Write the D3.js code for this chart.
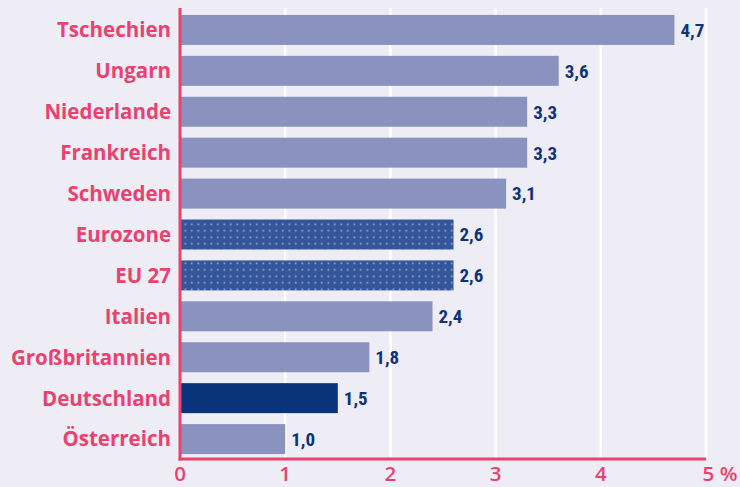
<!DOCTYPE html>
<html><head><meta charset="utf-8">
<script src="https://cdn.jsdelivr.net/npm/d3@7"></script>
<style>body{margin:0;background:#eeecf5;}svg{display:block;}</style>
</head><body>
<script>
const categories = ["Tschechien","Ungarn","Niederlande","Frankreich","Schweden","Eurozone","EU 27","Italien","Großbritannien","Deutschland","Österreich"];
const values = [4.7,3.6,3.3,3.3,3.1,2.6,2.6,2.4,1.8,1.5,1.0];
const barTypes = ["normal","normal","normal","normal","normal","dotted","dotted","normal","normal","highlight","normal"];
const tickValues = [0,1,2,3,4,5];
const tickLabels = ["0","1","2","3","4","5 %"];

const W = 740, H = 487;
const svg = d3.select("body").append("svg").attr("width", W).attr("height", H);
svg.append("rect").attr("width", W).attr("height", H).attr("fill", "#eeecf5");

const defs = svg.append("defs");
const pat = defs.append("pattern").attr("id","dots").attr("patternUnits","userSpaceOnUse")
  .attr("width",6.5).attr("height",6.5);
pat.append("rect").attr("width",6.5).attr("height",6.5).attr("fill","#34559a");
pat.append("rect").attr("x",2.5).attr("y",2.5).attr("width",1.6).attr("height",1.6).attr("fill","#a3b0d6");

const x = d3.scaleLinear().domain([0,5]).range([180,706]);
const y = d3.scaleBand().domain(categories).range([9.5, 459.5]).paddingInner(0.267).paddingOuter(0.133);

// grid
svg.append("g").selectAll("line").data(tickValues.filter(d=>d>0)).join("line")
  .attr("x1", d=>x(d)).attr("x2", d=>x(d)).attr("y1", 8).attr("y2", 459)
  .attr("stroke", "#ffffff").attr("stroke-width", 2.5);

const fills = {normal:"#8a92bf", dotted:"url(#dots)", highlight:"#0a347a"};
svg.append("g").selectAll("rect").data(categories).join("rect")
  .attr("x", x(0)).attr("y", d=>y(d))
  .attr("width", (d,i)=>x(values[i])-x(0)).attr("height", y.bandwidth())
  .attr("fill", (d,i)=>fills[barTypes[i]]);

// value labels
svg.append("g").selectAll("text").data(categories).join("text")
  .attr("x", (d,i)=>x(values[i])+6).attr("y", d=>y(d)+y.bandwidth()/2)
  .attr("dy","0.36em")
  .attr("font-family","'Liberation Sans Narrow','Roboto Condensed','Open Sans',sans-serif")
  .attr("font-weight","bold").attr("font-size",19).attr("fill","#0d3378")
  .text((d,i)=>d3.format(".1f")(values[i]).replace(".",","));

// category labels
svg.append("g").selectAll("text").data(categories).join("text")
  .attr("x", 171).attr("y", d=>y(d)+y.bandwidth()/2).attr("dy","0.36em")
  .attr("text-anchor","end")
  .attr("font-family","'Open Sans',sans-serif").attr("font-weight","bold")
  .attr("font-size",20.5).attr("fill","#e8436f")
  .text(d=>d);

// axes lines
svg.append("line").attr("x1",180).attr("x2",180).attr("y1",8).attr("y2",460.5)
  .attr("stroke","#e8436f").attr("stroke-width",3);
svg.append("line").attr("x1",178.5).attr("x2",x(5)).attr("y1",459).attr("y2",459)
  .attr("stroke","#e8436f").attr("stroke-width",3);

// tick labels
svg.append("g").selectAll("text").data(tickValues).join("text")
  .attr("x", d=>x(d) + (d===5?14:0)).attr("y", 481)
  .attr("text-anchor","middle")
  .attr("font-family","'Open Sans',sans-serif").attr("font-weight","600")
  .attr("font-size",20.5).attr("fill","#e8436f")
  .text((d,i)=>tickLabels[i]);
</script>
</body></html>
